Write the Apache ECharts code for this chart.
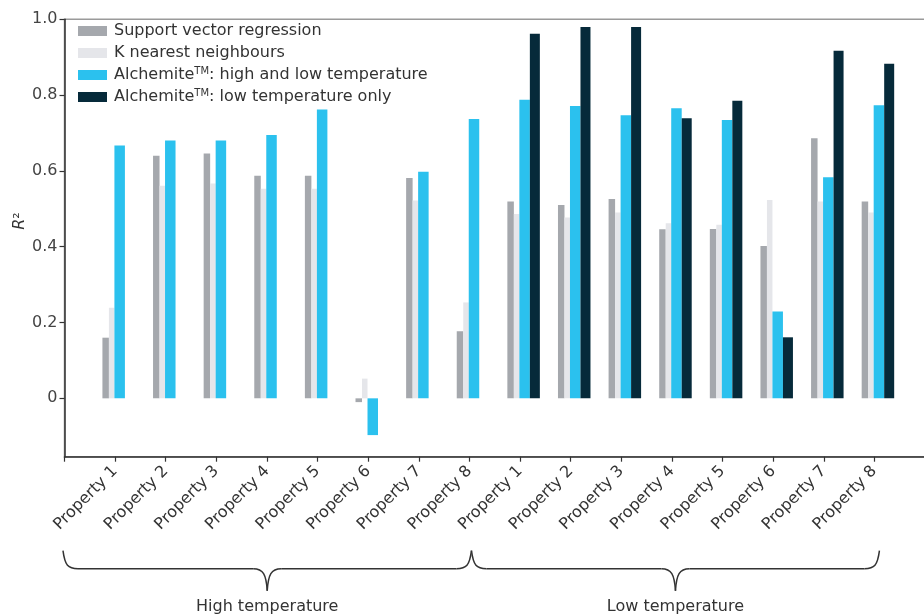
<!DOCTYPE html>
<html>
<head>
<meta charset="utf-8">
<script src="https://cdn.jsdelivr.net/npm/echarts@6/dist/echarts.min.js"></script>
<style>
  html, body { margin: 0; padding: 0; background: #fff; }
  #chart { width: 924px; height: 616px; }
</style>
</head>
<body>
<div id="chart"></div>
<script>
// ---- data ----
const groups = ['High temperature', 'Low temperature'];
const properties = ['Property 1', 'Property 2', 'Property 3', 'Property 4',
                    'Property 5', 'Property 6', 'Property 7', 'Property 8'];
const seriesNames = ['Support vector regression', 'K nearest neighbours',
                     'AlchemiteTM: high and low temperature', 'AlchemiteTM: low temperature only'];
// first 8 = high temperature, last 8 = low temperature
const svr    = [0.160, 0.640, 0.646, 0.587, 0.587, -0.010, 0.581, 0.177,
                0.519, 0.510, 0.526, 0.446, 0.447, 0.402, 0.686, 0.519];
const knn    = [0.239, 0.561, 0.567, 0.553, 0.553, 0.052, 0.522, 0.253,
                0.486, 0.477, 0.490, 0.462, 0.458, 0.523, 0.519, 0.490];
const alcHL  = [0.667, 0.680, 0.680, 0.695, 0.762, -0.097, 0.598, 0.737,
                0.788, 0.771, 0.747, 0.765, 0.734, 0.229, 0.583, 0.773];
const alcLow = [null, null, null, null, null, null, null, null,
                0.962, 0.980, 0.980, 0.739, 0.785, 0.161, 0.917, 0.883];
const yTicks = [0, 0.2, 0.4, 0.6, 0.8, 1.0];
const yMin = -0.154, yMax = 1.0;

// ---- build ----
const FONT = 'DejaVu Sans';
const FS = 16;
const cats = [''].concat(properties, properties, ['']);
const pad = arr => [null].concat(arr, [null]);
const colors = ['#a5a8ad', '#e5e6ea', '#2bc1ee', '#062a3a'];
const widths = [6.5, 5.5, 10.5, 10];

const chart = echarts.init(document.getElementById('chart'), null, { renderer: 'canvas' });

const series = [{
  name: '_offset', type: 'bar', data: pad(new Array(16).fill(null)),
  barWidth: 7.1, barGap: 0, itemStyle: { color: 'rgba(0,0,0,0)' }, silent: true
}];
[svr, knn, alcHL, alcLow].forEach((d, i) => {
  series.push({
    name: seriesNames[i], type: 'bar', data: pad(d),
    barWidth: widths[i], barGap: 0,
    itemStyle: { color: colors[i] },
    emphasis: { disabled: true }
  });
});

chart.setOption({
  animation: false,
  color: colors,
  grid: {
    left: 64.5, top: 19.3, width: 860.5, height: 437.4,
    outerBoundsMode: 'none', containLabel: false,
    show: true, borderColor: '#9a9a9a', borderWidth: 1.5, backgroundColor: 'transparent'
  },
  legend: {
    orient: 'vertical', left: 78, top: 22, padding: 0,
    itemWidth: 29, itemHeight: 10, itemGap: 4, icon: 'rect',
    data: seriesNames,
    formatter: name => name.replace('TM', '{sup|TM}'),
    textStyle: {
      fontFamily: FONT, fontSize: FS, color: '#333', lineHeight: 18,
      padding: [0, 0, 0, 2],
      rich: { sup: { fontFamily: FONT, fontSize: 10, lineHeight: 10, verticalAlign: 'top', color: '#333' } }
    }
  },
  xAxis: {
    type: 'category', data: cats, boundaryGap: false,
    axisLine: { onZero: false, lineStyle: { color: '#333', width: 1.5 } },
    axisTick: { show: true, length: 5, lineStyle: { color: '#333', width: 1.2 } },
    axisLabel: { interval: 0, rotate: 45, margin: 12, fontFamily: FONT, fontSize: FS, color: '#333' },
    splitLine: { show: false }
  },
  yAxis: {
    type: 'value', min: yMin, max: yMax,
    name: '{r|R}²', nameLocation: 'middle', nameRotate: 90, nameGap: 37, nameMoveOverlap: false,
    nameTextStyle: { fontFamily: FONT, fontSize: FS, color: '#333', padding: [0, 0, 0, 34],
                     rich: { r: { fontStyle: 'italic', fontFamily: FONT, fontSize: FS, color: '#333' } } },
    axisLine: { show: true, lineStyle: { color: '#333', width: 1.5 } },
    axisTick: { show: true, length: 5, customValues: yTicks, lineStyle: { color: '#333', width: 1.2 } },
    axisLabel: { customValues: yTicks, margin: 7, fontFamily: FONT, fontSize: FS, color: '#444',
                 formatter: v => (v === 0 ? '0' : v.toFixed(1)) },
    splitLine: { show: false }
  },
  series: series
});

// ---- group braces (positioned through the axis scale) ----
function xAt(idx) {
  const a = chart.convertToPixel({ gridIndex: 0 }, [0, 0])[0];
  const b = chart.convertToPixel({ gridIndex: 0 }, [1, 0])[0];
  return a + (b - a) * idx;
}
const gridBottom = chart.convertToPixel({ gridIndex: 0 }, [0, yMin])[1];
const y0 = gridBottom + 94, y1 = gridBottom + 112, y2 = gridBottom + 134;
const braceSpans = [[-0.03, 8.04], [8.04, 16.1]];
const stroke = { stroke: '#333', lineWidth: 1.5, fill: null };
const elems = [];
braceSpans.forEach((sp, gi) => {
  const xa = xAt(sp[0]), xb = xAt(sp[1]), xm = (xa + xb) / 2;
  elems.push({ type: 'bezierCurve', silent: true, shape: { x1: xa, y1: y0, cpx1: xa + 2, cpy1: y1 - 3, cpx2: xa + 5, cpy2: y1, x2: xa + 15, y2: y1 }, style: stroke });
  elems.push({ type: 'line', silent: true, shape: { x1: xa + 15, y1: y1, x2: xm - 14, y2: y1 }, style: stroke });
  elems.push({ type: 'bezierCurve', silent: true, shape: { x1: xm - 14, y1: y1, cpx1: xm - 4, cpy1: y1, cpx2: xm - 1, cpy2: y1 + 6, x2: xm, y2: y2 }, style: stroke });
  elems.push({ type: 'bezierCurve', silent: true, shape: { x1: xm, y1: y2, cpx1: xm + 1, cpy1: y1 + 6, cpx2: xm + 4, cpy2: y1, x2: xm + 14, y2: y1 }, style: stroke });
  elems.push({ type: 'line', silent: true, shape: { x1: xm + 14, y1: y1, x2: xb - 15, y2: y1 }, style: stroke });
  elems.push({ type: 'bezierCurve', silent: true, shape: { x1: xb - 15, y1: y1, cpx1: xb - 5, cpy1: y1, cpx2: xb - 2, cpy2: y1 - 3, x2: xb, y2: y0 }, style: stroke });
  elems.push({ type: 'text', silent: true, x: xm, y: gridBottom + 150,
    style: { text: groups[gi], fontFamily: FONT, fontSize: FS, fill: '#333', textAlign: 'center', textVerticalAlign: 'middle' } });
});
chart.setOption({ graphic: { elements: elems } });
</script>
</body>
</html>
